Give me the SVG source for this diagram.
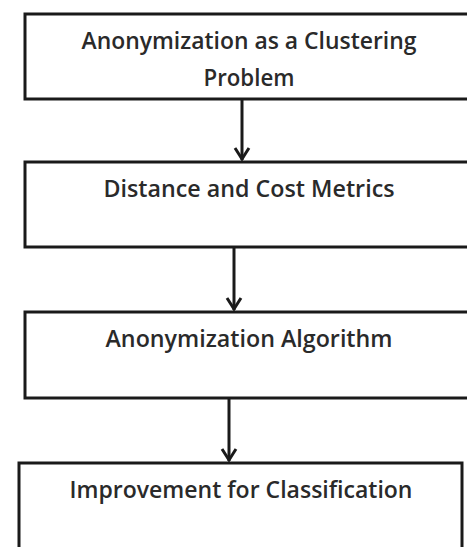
<svg xmlns="http://www.w3.org/2000/svg" width="467" height="547" viewBox="0 0 467 547">
<style>
.box{fill:#fff;stroke:#1a1a1a;stroke-width:3}
.lbl{font-family:"Open Sans","Liberation Sans",sans-serif;font-weight:600;font-size:23px;fill:#2a2a2a;text-anchor:middle}
.con{stroke:#1a1a1a;stroke-width:3;fill:none}
.head{stroke:#1a1a1a;stroke-width:3;fill:none;stroke-linejoin:miter}
</style>
<rect width="467" height="547" fill="#fff"/>
<g id="n1">
<rect class="box" x="25" y="14" width="450" height="85"/>
<text class="lbl" x="249" y="49" textLength="335" lengthAdjust="spacingAndGlyphs">Anonymization as a Clustering</text>
<text class="lbl" x="249" y="86" textLength="91" lengthAdjust="spacingAndGlyphs">Problem</text>
</g>
<g id="n2">
<rect class="box" x="25" y="162" width="450" height="85"/>
<text class="lbl" x="249" y="197" textLength="291" lengthAdjust="spacingAndGlyphs">Distance and Cost Metrics</text>
</g>
<g id="n3">
<rect class="box" x="25" y="312" width="450" height="86"/>
<text class="lbl" x="249" y="347" textLength="287" lengthAdjust="spacingAndGlyphs">Anonymization Algorithm</text>
</g>
<g id="n4">
<rect class="box" x="19" y="463" width="443" height="100"/>
<text class="lbl" x="241" y="498" textLength="343" lengthAdjust="spacingAndGlyphs">Improvement for Classification</text>
</g>
<g id="connectors">
<line class="con" x1="242" y1="99" x2="242" y2="160"/>
<polyline class="head" points="235,148 242,159 249,148"/>
<line class="con" x1="234" y1="247" x2="234" y2="310"/>
<polyline class="head" points="227,298 234,309 241,298"/>
<line class="con" x1="229" y1="398" x2="229" y2="461"/>
<polyline class="head" points="222,449 229,460 236,449"/>
</g>
</svg>
